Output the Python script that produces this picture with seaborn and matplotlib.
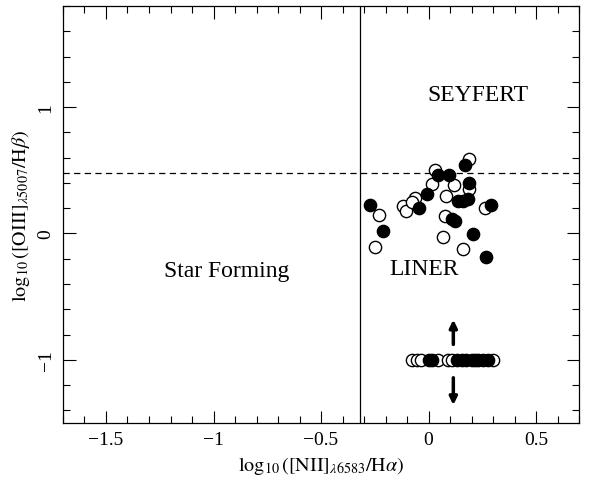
import matplotlib
matplotlib.use("Agg")
import matplotlib.pyplot as plt
from matplotlib.ticker import MultipleLocator
import seaborn as sns
import pandas as pd

# detected galaxies: filled / open symbols
filled_x = [0.169, 0.043, 0.097, 0.189, -0.006, 0.138, 0.161, 0.184, -0.046,
            0.288, -0.273, 0.11, 0.123, -0.21, 0.207, 0.265]
filled_y = [0.54, 0.466, 0.466, 0.40, 0.31, 0.258, 0.258, 0.27, 0.205,
            0.227, 0.227, 0.115, 0.096, 0.023, -0.008, -0.19]
open_x = [0.187, 0.028, 0.015, 0.117, 0.187, 0.08, -0.061, -0.12, -0.107,
          -0.077, 0.264, -0.23, 0.074, 0.066, -0.248, 0.158]
open_y = [0.59, 0.505, 0.393, 0.38, 0.35, 0.297, 0.279, 0.219, 0.18,
          0.245, 0.205, 0.148, 0.14, -0.029, -0.107, -0.12]

# objects with unconstrained [OIII]/Hb, plotted at -1
lim_filled_x = [0.0, 0.015, 0.13, 0.153, 0.176, 0.2, 0.215, 0.253, 0.276]
lim_open_x = [-0.077, -0.054, -0.034, 0.046, 0.092, 0.107, 0.23, 0.3]
lim_y = -1.0

x_split = -0.32
y_split = 0.477

sns.set_style("ticks")
plt.rcParams["font.family"] = ["Liberation Serif", "DejaVu Serif"]
plt.rcParams["mathtext.fontset"] = "stix"
for k in ["text.color", "axes.labelcolor", "xtick.color", "ytick.color",
          "axes.edgecolor"]:
    plt.rcParams[k] = "black"

fig = plt.figure(figsize=(5.94, 4.81), dpi=100)
ax = fig.add_axes([0.106, 0.1185, 0.869, 0.867])

df_f = pd.DataFrame({"x": filled_x + lim_filled_x,
                     "y": filled_y + [lim_y] * len(lim_filled_x)})
df_o = pd.DataFrame({"x": open_x + lim_open_x,
                     "y": open_y + [lim_y] * len(lim_open_x)})

sns.scatterplot(data=df_o, x="x", y="y", ax=ax, s=78, facecolor="white",
                edgecolor="black", linewidth=1.0, zorder=3)
sns.scatterplot(data=df_f, x="x", y="y", ax=ax, s=78, facecolor="black",
                edgecolor="black", linewidth=1.0, zorder=4)

ax.axvline(x_split, color="black", lw=0.9)
ax.axhline(y_split, color="black", lw=0.9, ls=(0, (5, 3.5)))

# arrows
arrow = dict(arrowstyle="-|>,head_width=0.22,head_length=0.45",
             lw=2.5, color="black")
ax.annotate("", xy=(0.115, -0.66), xytext=(0.115, -0.9), arrowprops=arrow)
ax.annotate("", xy=(0.115, -1.38), xytext=(0.115, -1.12), arrowprops=arrow)

ax.text(0.23, 1.10, "SEYFERT", fontsize=17, ha="center", va="center")
ax.text(-0.94, -0.29, "Star Forming", fontsize=17, ha="center", va="center")
ax.text(-0.02, -0.28, "LINER", fontsize=17, ha="center", va="center")

ax.set_xlim(-1.7, 0.7)
ax.set_ylim(-1.5, 1.8)
ax.xaxis.set_minor_locator(MultipleLocator(0.1))
ax.yaxis.set_minor_locator(MultipleLocator(0.2))
ax.set_xticks([-1.5, -1, -0.5, 0, 0.5])
ax.set_xticklabels(["\u22121.5", "\u22121", "\u22120.5", "0", "0.5"])
ax.set_yticks([-1, 0, 1])
ax.set_yticklabels(["\u22121", "0", "1"], rotation=90, va="center")
ax.tick_params(which="both", direction="in", top=True, right=True,
               labelsize=14, width=0.8)
ax.tick_params(which="major", length=9, pad=6)
ax.tick_params(which="minor", length=5)
for sp in ax.spines.values():
    sp.set_linewidth(0.9)

ax.set_xlabel(r"$\log_{10}([\mathrm{NII}]_{\lambda6583}/\mathrm{H}\alpha)$",
              fontsize=14.5, labelpad=4)
ax.set_ylabel(r"$\log_{10}([\mathrm{OIII}]_{\lambda5007}/\mathrm{H}\beta)$",
              fontsize=14.5, labelpad=4)

fig.savefig("out.png", dpi=100)
